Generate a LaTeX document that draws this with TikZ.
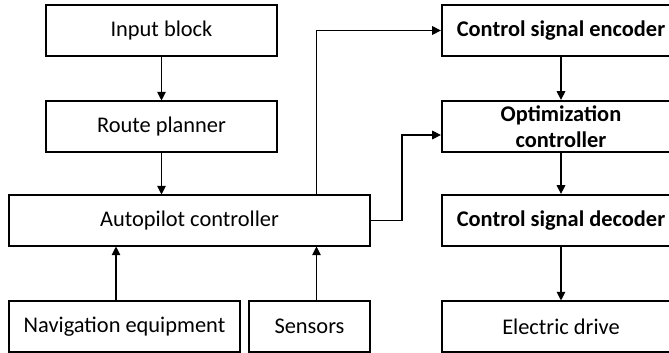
\documentclass[tikz,border=0pt]{standalone}
\usepackage{fontspec}
\setmainfont{Carlito}
\usetikzlibrary{arrows.meta,calc}
\begin{document}
\begin{tikzpicture}[x=0.75pt,y=-0.75pt,
  blk/.style={draw,line width=0.8pt,inner sep=0pt,align=center,
    font=\fontsize{16.8}{19.5}\selectfont},
  thk/.style={blk,line width=1.7pt,font=\fontsize{16.8}{19.5}\selectfont\bfseries},
  arr/.style={line width=0.8pt,-{Triangle[length=6.5pt,width=6.5pt]}},
  ln/.style={line width=0.8pt}]
\useasboundingbox (0,0) rectangle (669,353);
\node[blk,minimum width=231*0.75pt,minimum height=51*0.75pt] (in) at (161.5,30.5) {Input block};
\node[blk,minimum width=231*0.75pt,minimum height=51*0.75pt] (route) at (161.5,126.5) {Route planner};
\node[blk,minimum width=361*0.75pt,minimum height=51*0.75pt] (auto) at (189.5,220.5) {Autopilot controller};
\node[blk,minimum width=231*0.75pt,minimum height=51*0.75pt] (nav) at (124.5,326.5) {Navigation equipment};
\node[blk,minimum width=121*0.75pt,minimum height=51*0.75pt] (sens) at (309.5,326.5) {Sensors};
\node[thk,minimum width=238*0.75pt,minimum height=51*0.75pt] (enc) at (561,30.5) {Control signal encoder};
\node[thk,minimum width=238*0.75pt,minimum height=51*0.75pt] (opt) at (561,126.5) {Optimization\\controller};
\node[thk,minimum width=238*0.75pt,minimum height=51*0.75pt] (dec) at (561,220.5) {Control signal decoder};
\node[blk,minimum width=238*0.75pt,minimum height=51*0.75pt] (drv) at (561,326.5) {Electric drive};
\coordinate (sx) at (316.5,0);
\coordinate (nx) at (116,0);
\coordinate (optin) at ($(opt.west)+(0,8.5)$);
\coordinate (bend) at (402,0);
\draw[arr] (in.south) -- (route.north);
\draw[arr] (route.south) -- (route.south |- auto.north);
\draw[arr] (nav.north -| nx) -- (auto.south -| nx);
\draw[arr] (sens.north -| sx) -- (auto.south -| sx);
\draw[arr] (auto.north -| sx) |- (enc.west);
\draw[arr] (auto.east) -| (bend |- optin) -- (optin);
\draw[arr] (enc.south) -- (opt.north);
\draw[arr] (opt.south) -- (dec.north);
\draw[arr] (dec.south) -- (drv.north);
\end{tikzpicture}
\end{document}
